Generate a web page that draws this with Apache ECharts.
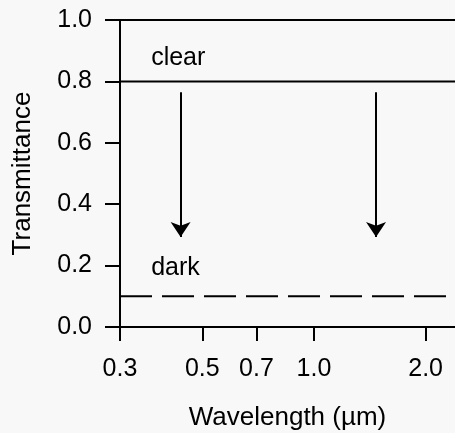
<!DOCTYPE html>
<html>
<head>
<meta charset="utf-8">
<script src="https://cdn.jsdelivr.net/npm/echarts@6/dist/echarts.min.js"></script>
<style>
html, body { margin: 0; padding: 0; background: #f8f8f8; }
#chart { width: 455px; height: 433px; }
</style>
</head>
<body>
<div id="chart"></div>
<script>
// wavelength range and ticks (um), log axis
const xRange = [0.3, 2.4];
const xTicks = [0.3, 0.5, 0.7, 1.0, 2.0];
const yTicks = [0, 0.2, 0.4, 0.6, 0.8, 1.0];

// transmittance levels
const clearLine = [[0.3, 0.8], [2.4, 0.8]];
const darkLine = [[0.3, 0.1], [2.4, 0.1]];

// arrows from clear to dark
const arrowLeft = [[0.437, 0.765], [0.437, 0.293]];
const arrowRight = [[1.47, 0.765], [1.47, 0.293]];

// text labels [x, y, text]
const notes = [[0.364, 0.875, 'clear'], [0.364, 0.192, 'dark']];

const font = 'Liberation Sans, Arial, sans-serif';
const ink = '#000';

lineInit = () => {
	let chart = echarts.init(document.getElementById('chart'));

	let option = {
		backgroundColor: '#f8f8f8',
		animation: false,
		grid: { left: 120, right: 0, top: 20, bottom: 106, outerBoundsMode: 'none', containLabel: false },
		xAxis: [{
			type: 'log',
			min: xRange[0],
			max: xRange[1],
			name: 'Wavelength (\u00b5m)',
			nameLocation: 'middle',
			nameGap: 78,
			nameTextStyle: { fontFamily: font, fontSize: 26, color: ink },
			axisLine: { lineStyle: { color: ink, width: 2 } },
			axisTick: { customValues: xTicks, length: 14, lineStyle: { color: ink, width: 2 } },
			axisLabel: {
				customValues: xTicks,
				margin: 30,
				fontFamily: font, fontSize: 25, color: ink,
				formatter: v => Number(v).toFixed(1)
			},
			splitLine: { show: false },
			minorTick: { show: false }
		}, {
			type: 'log',
			position: 'top',
			min: xRange[0],
			max: xRange[1],
			axisLine: { lineStyle: { color: ink, width: 2 } },
			axisTick: { show: false },
			axisLabel: { show: false },
			splitLine: { show: false }
		}],
		yAxis: {
			type: 'value',
			min: yTicks[0],
			max: yTicks[yTicks.length - 1],
			interval: 0.2,
			name: 'Transmittance',
			nameLocation: 'middle',
			nameGap: 84,
			nameTextStyle: { fontFamily: font, fontSize: 26, color: ink },
			axisLine: { show: true, lineStyle: { color: ink, width: 2 } },
			axisTick: { show: true, length: 15, lineStyle: { color: ink, width: 2 } },
			axisLabel: {
				margin: 28,
				fontFamily: font, fontSize: 25, color: ink,
				formatter: v => v.toFixed(1)
			},
			splitLine: { show: false }
		},
		series: [{
			type: 'line',
			data: clearLine,
			symbol: 'none',
			lineStyle: { color: ink, width: 2 }
		}, {
			type: 'line',
			data: darkLine,
			symbol: 'none',
			lineStyle: { color: ink, width: 2, type: [32, 10] }
		}, {
			type: 'lines',
			coordinateSystem: 'cartesian2d',
			symbol: ['none', 'arrow'],
			symbolSize: [19, 15],
			lineStyle: { color: ink, width: 2, opacity: 1 },
			data: [{ coords: arrowLeft }, { coords: arrowRight }]
		}, {
			type: 'scatter',
			symbolSize: 0,
			itemStyle: { opacity: 1 },
			data: notes.map(n => ({ value: [n[0], n[1]], name: n[2] })),
			label: {
				show: true,
				position: 'right',
				distance: 0,
				formatter: p => p.name,
				fontFamily: font, fontSize: 25, color: ink, opacity: 1
			}
		}]
	};
	chart.setOption(option);
}
lineInit();
</script>
</body>
</html>
